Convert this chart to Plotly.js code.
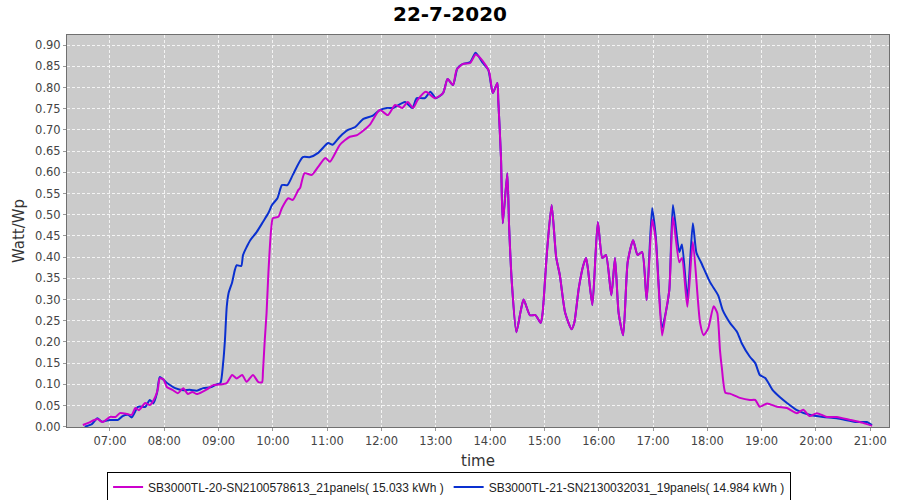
<!DOCTYPE html>
<html>
<head>
<meta charset="utf-8">
<script src="https://cdn.plot.ly/plotly-3.0.1.min.js"></script>
<style>html,body{margin:0;padding:0;background:#fff;}#chart{width:900px;height:500px;}</style>
</head>
<body>
<div id="chart"></div>
<script>
const chartDate = '2020-07-22';
const chartTitle = '22-7-2020';
const nameA = 'SB3000TL-20-SN2100578613_21panels( 15.033 kWh )';
const nameB = 'SB3000TL-21-SN2130032031_19panels( 14.984 kWh )';

const timesA = ['06:30','06:36','06:46','06:52','07:00','07:06','07:11','07:19','07:24','07:28','07:32','07:39','07:44','07:50','07:53','07:55','07:59','08:03','08:09','08:15','08:21','08:26','08:31','08:36','08:42','08:47','08:54','09:04','09:09','09:15','09:20','09:26','09:31','09:38','09:44','09:48','09:49','09:51','09:53','09:55','09:58','10:00','10:06','10:10','10:17','10:22','10:28','10:30','10:35','10:43','10:50','10:58','11:03','11:14','11:25','11:33','11:47','11:58','12:07','12:15','12:23','12:29','12:35','12:40','12:49','12:59','13:08','13:13','13:19','13:23','13:30','13:38','13:44','13:49','13:55','13:59','14:03','14:08','14:09','14:12','14:14','14:19','14:21','14:24','14:29','14:34','14:37','14:44','14:50','14:56','14:58','15:03','15:08','15:13','15:17','15:23','15:30','15:33','15:38','15:43','15:46','15:48','15:53','15:59','16:04','16:08','16:14','16:18','16:22','16:27','16:32','16:38','16:43','16:48','16:53','16:59','17:03','17:10','17:14','17:18','17:22','17:29','17:32','17:38','17:44','17:52','17:56','18:01','18:07','18:11','18:14','18:16','18:20','18:25','18:36','18:47','18:53','18:58','19:06','19:17','19:28','19:39','19:46','19:53','20:01','20:12','20:23','20:38','20:52','21:02'];
const valuesA = [0.004,0.009,0.018,0.011,0.023,0.023,0.032,0.030,0.028,0.044,0.039,0.056,0.051,0.070,0.090,0.114,0.112,0.093,0.087,0.079,0.091,0.077,0.082,0.077,0.082,0.088,0.098,0.100,0.103,0.122,0.114,0.122,0.106,0.122,0.105,0.105,0.129,0.204,0.268,0.362,0.464,0.492,0.495,0.516,0.539,0.535,0.558,0.563,0.598,0.594,0.613,0.634,0.625,0.665,0.684,0.688,0.712,0.747,0.735,0.759,0.752,0.766,0.752,0.771,0.790,0.775,0.787,0.820,0.806,0.842,0.856,0.858,0.878,0.870,0.853,0.837,0.787,0.811,0.771,0.636,0.480,0.598,0.472,0.340,0.223,0.275,0.300,0.263,0.263,0.245,0.268,0.417,0.523,0.400,0.358,0.268,0.230,0.245,0.327,0.381,0.398,0.374,0.287,0.483,0.398,0.405,0.310,0.398,0.268,0.216,0.388,0.440,0.405,0.412,0.299,0.488,0.440,0.215,0.268,0.322,0.495,0.388,0.398,0.283,0.436,0.245,0.216,0.232,0.284,0.268,0.180,0.140,0.080,0.078,0.068,0.063,0.063,0.047,0.055,0.047,0.044,0.032,0.040,0.025,0.032,0.023,0.023,0.016,0.009,0.002];

const timesB = ['06:32','06:40','06:46','06:51','07:00','07:09','07:14','07:20','07:24','07:31','07:39','07:44','07:48','07:52','07:55','08:03','08:12','08:21','08:28','08:36','08:43','08:51','08:58','09:02','09:05','09:07','09:09','09:11','09:15','09:18','09:20','09:25','09:27','09:31','09:35','09:42','09:49','09:55','09:59','10:05','10:10','10:16','10:22','10:33','10:41','10:50','11:01','11:06','11:14','11:23','11:31','11:40','11:50','11:58','12:06','12:13','12:26','12:34','12:39','12:48','12:54','13:00','13:08','13:13','13:19','13:24','13:30','13:38','13:44','13:52','13:58','14:03','14:08','14:09','14:12','14:14','14:19','14:21','14:24','14:29','14:34','14:37','14:44','14:50','14:56','14:58','15:03','15:08','15:13','15:17','15:23','15:30','15:33','15:38','15:43','15:46','15:48','15:53','15:59','16:04','16:08','16:14','16:18','16:22','16:27','16:32','16:38','16:43','16:48','16:53','16:59','17:03','17:10','17:14','17:18','17:22','17:29','17:32','17:38','17:44','17:48','17:53','18:03','18:12','18:17','18:25','18:33','18:38','18:47','18:53','18:58','19:04','19:12','19:20','19:28','19:39','19:53','20:08','20:23','20:45','20:56','21:02'];
const valuesB = [0.000,0.006,0.020,0.012,0.016,0.016,0.025,0.028,0.022,0.047,0.047,0.063,0.055,0.080,0.117,0.103,0.091,0.086,0.087,0.085,0.091,0.093,0.100,0.103,0.150,0.204,0.283,0.315,0.341,0.370,0.381,0.379,0.405,0.424,0.440,0.459,0.483,0.504,0.523,0.539,0.570,0.570,0.594,0.636,0.636,0.646,0.669,0.665,0.684,0.700,0.707,0.726,0.733,0.747,0.752,0.752,0.766,0.752,0.775,0.775,0.790,0.775,0.787,0.820,0.806,0.846,0.856,0.860,0.882,0.858,0.842,0.787,0.811,0.771,0.636,0.480,0.598,0.472,0.340,0.223,0.275,0.300,0.263,0.263,0.245,0.268,0.417,0.523,0.400,0.358,0.268,0.230,0.245,0.327,0.381,0.398,0.374,0.287,0.483,0.398,0.405,0.310,0.398,0.268,0.216,0.388,0.440,0.405,0.412,0.299,0.516,0.450,0.234,0.268,0.322,0.523,0.412,0.430,0.303,0.480,0.410,0.388,0.341,0.310,0.275,0.245,0.223,0.197,0.165,0.150,0.122,0.115,0.087,0.070,0.056,0.039,0.028,0.023,0.020,0.011,0.011,0.004];

const yTickVals = [0,0.05,0.10,0.15,0.20,0.25,0.30,0.35,0.40,0.45,0.50,0.55,0.60,0.65,0.70,0.75,0.80,0.85,0.90];
const xTickHours = ['07:00','08:00','09:00','10:00','11:00','12:00','13:00','14:00','15:00','16:00','17:00','18:00','19:00','20:00','21:00'];

const toX = t => chartDate + ' ' + t;

const traceB = {
  x: timesB.map(toX), y: valuesB, name: nameB, type: 'scatter', mode: 'lines',
  line: {color: '#0a30d0', width: 2, shape: 'spline', smoothing: 0.6}, legendrank: 2
};
const traceA = {
  x: timesA.map(toX), y: valuesA, name: nameA, type: 'scatter', mode: 'lines',
  line: {color: '#cc00cc', width: 2, shape: 'spline', smoothing: 0.6}, legendrank: 1
};

const fontFam = 'DejaVu Sans, sans-serif';
const layout = {
  width: 900, height: 500,
  paper_bgcolor: '#ffffff', plot_bgcolor: '#cbcbcb',
  margin: {l: 67, r: 11, t: 35, b: 73},
  title: {text: '<b>' + chartTitle + '</b>', x: 0.5, xanchor: 'center', y: 0.972, yanchor: 'middle',
          font: {family: fontFam, size: 20, color: '#000'}},
  showlegend: true,
  legend: {orientation: 'h', xref: 'container', x: 0.499, xanchor: 'center', yref: 'container', y: 0.026, yanchor: 'middle',
           bordercolor: '#000', borderwidth: 1, bgcolor: '#fff',
           font: {family: 'Liberation Sans, Arial, sans-serif', size: 12, color: '#222'}, itemwidth: 30, tracegroupgap: 0},
  xaxis: {
    type: 'date',
    range: [toX('06:12:30'), toX('21:20:45')],
    tickvals: xTickHours.map(toX), ticktext: xTickHours,
    showgrid: true, gridcolor: '#f4f4f4', griddash: '3px,2px', gridwidth: 1,
    showline: true, linecolor: '#707070', linewidth: 1, mirror: true,
    ticks: 'outside', ticklen: 3, tickcolor: '#999',
    tickfont: {family: fontFam, size: 11.5, color: '#444'},
    title: {text: 'time', font: {family: fontFam, size: 15, color: '#333'}, standoff: 8},
    zeroline: false
  },
  yaxis: {
    range: [-0.0007, 0.924],
    tickvals: yTickVals, tickformat: '.2f',
    showgrid: true, gridcolor: '#f4f4f4', griddash: '3px,2px', gridwidth: 1,
    showline: true, linecolor: '#707070', linewidth: 1, mirror: true,
    ticks: 'outside', ticklen: 3, tickcolor: '#999',
    tickfont: {family: fontFam, size: 11.5, color: '#444'},
    title: {text: 'Watt/Wp', font: {family: fontFam, size: 15, color: '#333'}, standoff: 6},
    zeroline: false
  }
};

Plotly.newPlot('chart', [traceB, traceA], layout, {displayModeBar: false, staticPlot: true});
</script>
</body>
</html>
